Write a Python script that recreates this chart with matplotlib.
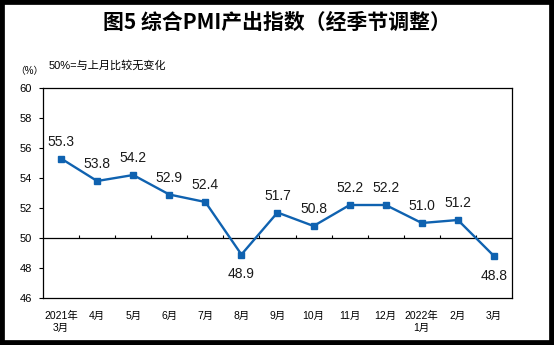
import matplotlib.pyplot as plt
from matplotlib.patches import Rectangle
import numpy as np

plt.rcParams['font.family'] = ['Liberation Sans', 'Noto Sans CJK SC']

months = ['2021年\n3月', '4月', '5月', '6月', '7月', '8月', '9月', '10月',
          '11月', '12月', '2022年\n1月', '2月', '3月']
pmi_output = [55.3, 53.8, 54.2, 52.9, 52.4, 48.9, 51.7, 50.8,
              52.2, 52.2, 51.0, 51.2, 48.8]
yticks = [46, 48, 50, 52, 54, 56, 58, 60]

blue = '#0f62b0'

fig = plt.figure(figsize=(5.54, 3.45), dpi=100)
ax = fig.add_axes([0.0776, 0.1362, 0.8466, 0.6087])

x = np.arange(len(months))
ax.plot(x, pmi_output, color=blue, lw=1.7, marker='s', ms=4, zorder=3)

# reference line at 50 with small ticks between categories
ax.axhline(50, color='black', lw=0.9, zorder=2)
ax.vlines(np.arange(0.5, len(months) - 1), 50, 50.22, color='black', lw=0.8)

for i, v in enumerate(pmi_output):
    if v < 50:
        ax.annotate(f'{v:.1f}', (i, v), xytext=(0, -9), textcoords='offset points',
                    ha='center', va='top', fontsize=10, color='#1a1a1a')
    else:
        ax.annotate(f'{v:.1f}', (i, v), xytext=(0, 7), textcoords='offset points',
                    ha='center', va='bottom', fontsize=10, color='#1a1a1a')

ax.set_xlim(-0.5, len(months) - 0.5)
ax.set_ylim(46, 60)
ax.set_yticks(yticks)
ax.set_xticks(x)
ax.set_xticklabels(months, fontsize=7.5, linespacing=1.3)
ax.tick_params(axis='x', length=0, pad=9)
ax.tick_params(axis='y', length=3, direction='out', labelsize=8, pad=5)
for s in ax.spines.values():
    s.set_linewidth(0.9)

fig.text(0.5, 0.935, '图5 综合PMI产出指数（经季节调整）', ha='center', va='center',
         fontsize=15, fontweight='bold', family=['Noto Sans CJK SC'])
fig.text(0.088, 0.81, '50%=与上月比较无变化', ha='left', va='center', fontsize=8)
fig.text(0.027, 0.795, '（%）', ha='left', va='center', fontsize=7)

fig.patches.append(Rectangle((0, 0), 1, 1, transform=fig.transFigure, fill=False,
                             edgecolor='black', lw=7, clip_on=False))

fig.savefig('out.png', dpi=100)
